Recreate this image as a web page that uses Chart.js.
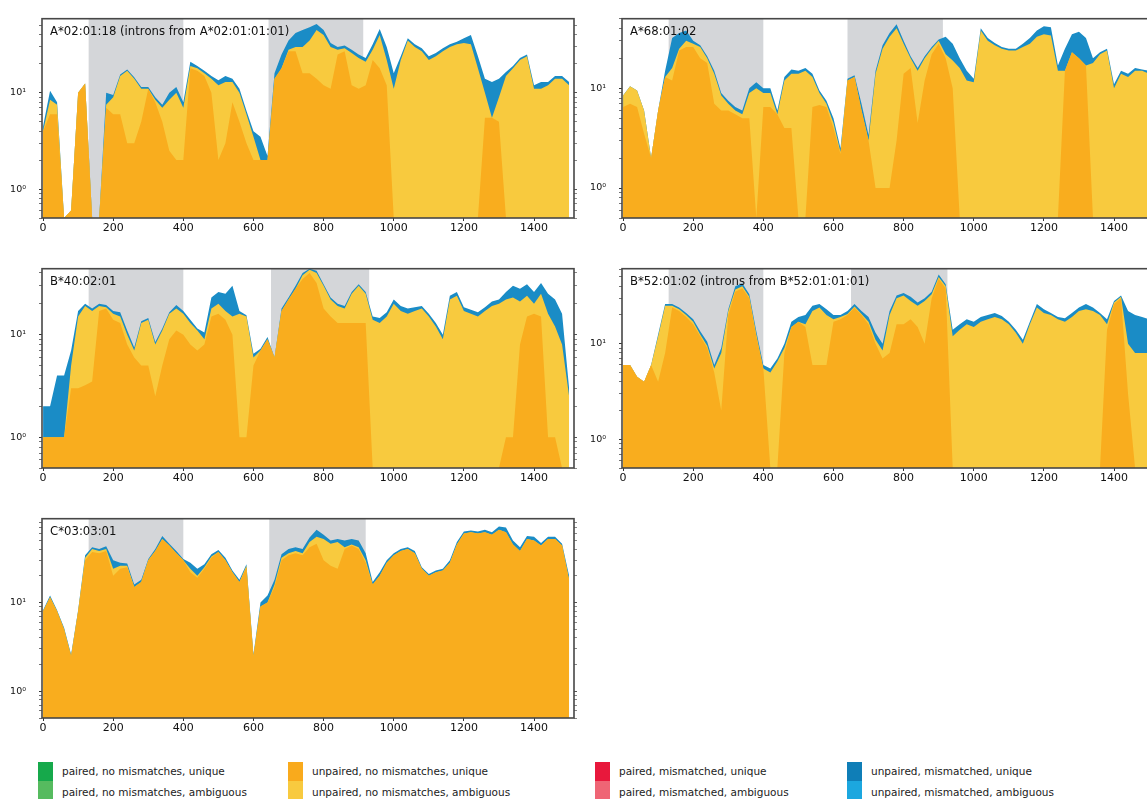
<!DOCTYPE html>
<html>
<head>
<meta charset="utf-8">
<script src="https://cdn.jsdelivr.net/npm/chart.js@4.4.0/dist/chart.umd.min.js"></script>
<style>
  body { margin: 0; background: #fff; }
  #page { position: relative; width: 1147px; height: 803px; overflow: hidden; font-family: 'DejaVu Sans', sans-serif; }
  #page canvas { position: absolute; }
  .sw { position: absolute; width: 15px; }
  .lab { position: absolute; font-size: 10.5px; color: #222; line-height: 14px; white-space: nowrap; }
</style>
</head>
<body>
<div id="page"></div>
<script>
// x positions along the allele sequence (bp)
var positions = [0,20,40,60,80,100,120,140,160,180,
                 200,220,240,260,280,300,320,340,360,380,
                 400,420,440,460,480,500,520,540,560,580,
                 600,620,640,660,680,700,720,740,760,780,
                 800,820,840,860,880,900,920,940,960,980,
                 1000,1020,1040,1060,1080,1100,1120,1140,1160,1180,
                 1200,1220,1240,1260,1280,1300,1320,1340,1360,1380,
                 1400,1420,1440,1460,1480,1500];
var xTicks = [0, 200, 400, 600, 800, 1000, 1200, 1400];

// coverage; "Unique" = top of unpaired unique layer,
// "Ambiguous" = top of the unpaired ambiguous layer, "Total" = top incl. mismatched reads
var a0201Unique = [4,6,6,0,0.6,10,12.5,0,0,7,
  6,6,3,3,5,11,8,5,2.5,2,
  2,18,17,15,10,2,3,8,5,3,
  2,2,2,14,18,27,27,16,16,14,
  12,11,25,27,12,11,12,22,18,12,
  0,0,0,0,0,0,0,0,0,0,
  0,0,0,5.5,5.5,5,0,0,0,0,
  0,0,0,0,0,0];
var a0201Ambiguous = [4,8.5,7.5,0,0.6,10,12.5,0,0,7.5,
  9,15,17,14,11,11,8.5,7,8.5,10,
  7,19,18,16,14,12,13,13,10,6,
  3.5,2,2,14,18,28,30,30,35,45,
  40,30,28,29,26,23,21,28,40,22,
  11,22,35,30,27,22,24,27,30,32,
  33,32,18,10,5.5,9,15,18,22,24,
  11,11,12,14,14,12];
var a0201Total = [4.5,10.5,8,0,0.6,10,12.5,0,0,10,
  9.5,15.5,17.5,14.5,11.5,11.5,9,7.5,10,11.5,
  8,21,19,17,15,13.5,15,14,11,6.5,
  4,3.5,2.2,16,25,35,42,45,48,52,
  45,33,30,31,28,25,23,32,46,30,
  16,24,37,32,29,24,26,29,32,34,
  37,40,24,14,13,14,16.5,19,23,25,
  12,13,13,15,15,13];

var a6801Unique = [6.5,7,6.5,3.5,2,6,13,12,24,26,
  26,20,18,7,6,6,5.5,5,5,0,
  6.5,6.5,5.5,4,4,0,0,6.5,6.8,6.5,
  4,2.2,12,13,6,3,1,1,1,3,
  14,16,4.5,12,22,28,20,10,0,0,
  0,0,0,0,0,0,0,0,0,0,
  0,0,0,15,23,20,17,0,0,0,
  0,0,0,0,0,0];
var a6801Ambiguous = [8.5,10.5,9.5,6,2,6,13,16,25,30,
  28,26,20,14,8.5,7,6,5.5,9,10,
  9,9,5.5,12,14,14,15,13,9,7,
  4.5,2.3,12,13,6,3,14,25,33,40,
  28,20,15,20,25,30,22,19,16,12,
  11.5,38,30,27,25,24,24,26,28,33,
  35,34,15,15,23,20,17,18,22,24,
  10,14,13,15,15,14];
var a6801Total = [8.5,10.5,9.5,6,2,6,15,32,36,38,
  30,27,21,15,9,7.5,6.5,6,10,11.5,
  10,10,6,13,15.5,15,16,14,9.5,7.5,
  5,2.5,12.5,13.5,7,3.4,15,27,36,44,
  30,21,16,21,26,31,33,28,20,15,
  12.5,40,32,28.5,26,25,25,28,32,38,
  42,41,17,25,35,37,32,20,23,25,
  11,15,14,16,15.5,15];

var b4002Unique = [1,1,1,1,3,3,3.2,3.5,17,18,
  14,13,8,6,5,5,2.5,5,9,11,
  10,8,7,8,15,16,14,10,1,1,
  5,7,9,6,17,22,28,35,40,32,
  18,15,13,13,13,13,13,0,0,0,
  0,0,0,0,0,0,0,0,0,0,
  0,0,0,0,0,0,1,1,8,15,
  16,15,1,1,0,0];
var b4002Ambiguous = [1,1,1,1,5,15,19,17,19,18.5,
  16,15,10,7,13,14,8,11,16,18,
  16,13,11,9,18,20,17,15,16,15,
  6,7,9,6,17,22,28,38,43,40,
  30,22,19,18,25,30,25,14,13,15,
  20,17,16,17,18,15,12,9,22,24,
  17,16,15,17,19,20,22,23,21,24,
  20,25,16,12,8,2.5];
var b4002Total = [2,2,4,4,7,17,20,18,20,19.5,
  17,16.5,11,7.5,13.5,14.5,8.5,11.5,16.5,19.5,
  17,14,11.5,10.5,23,26,25,30,17,15.5,
  6.5,7.3,9.5,6,18,23,30,40,44,42,
  31,23,20,19,26,31,26,15,14.5,16.5,
  22,19,18,18.5,19,16,13,10,24,26,
  18.5,17.5,16.5,18.5,21,22,26,30,28,31,
  26,32,25,22,16,3];

var b5201Unique = [6,6,4.5,4,6,4,8,24,22,19,
  16,12,9,5,2,20,35,38,30,12,
  5.5,0,0,8,15,17,15,6,6,6,
  17,18,20,24,20,16,10,7,8,16,
  16,18,15,10,30,48,38,0,0,0,
  0,0,0,0,0,0,0,0,0,0,
  0,0,0,0,0,0,0,0,0,14,
  26,30,3,0,0,0];
var b5201Ambiguous = [6,6,4.5,4,6,12,25,25,23,20,
  17,12.5,9.5,5.5,8,22,37,40,31,12.5,
  5.5,5,6.5,9,15,17,16,22,24,20,
  18,19,20.5,24.5,20.5,17,11,8.5,20,30,
  32,28,25,28,33,50,40,12,14,16,
  15,17,18,19,18,16,13,10,16,24,
  21,20,18,17,19,22,23,22,20,16,
  27,31,10,8,8,8];
var b5201Total = [6,6,4.5,4,6,12.5,26,26,24,21,
  18,13.5,10.5,6,9,23,40,43,33,13.5,
  6,5.5,7,10,17,19,20,25,26,23,
  20,20,22,26,22,19,13,10,22,32,
  34,31,27,30,35,53,42,14,16,18,
  17,19,20,21,19.5,17,14,11,17,26,
  23,21,19,18.5,21,24,26,24,21,18,
  28,32,22,20,19,18];

var c0303Unique = [8,11.5,8,5,2.5,8,30,37,36,38,
  20,24,25,15,17,30,38,52,44,36,
  30,22,19,24,32,37,30,22,17,25,
  2.5,9,10,15,30,34,36,34,42,46,
  30,26,24,40,44,40,28,16,20,28,
  34,38,40,36,24,20,22,23,28,45,
  60,62,60,62,58,66,62,45,38,52,
  50,44,52,52,44,18];
var c0303Ambiguous = [8,11.5,8,5,2.5,8,32,40,38,40,
  24,26,26,15,17,30,38,52,44,36,
  30,24,20,25,33,37,30,22,17,26,
  2.5,9,10,16,32,36,38,36,48,55,
  52,46,48,42,45,42,30,16,20,28,
  34,38,40,36,24,20,22,23,28,45,
  60,62,60,62,58,66,62,45,38,52,
  50,44,52,52,44,18];
var c0303Total = [8.2,12,8.2,5.2,2.6,8.2,34,42,40,43,
  30,28,27.5,16,18,31,40,56,46,38,
  31,28,24,27,35,39,32,23,18,27,
  2.6,10,12,18,35,40,42,40,54,66,
  58,50,52,50,52,50,36,17,22,30,
  36,40,42,38,25,21,23,24,30,48,
  63,65,63,66,62,72,70,50,42,56,
  55,47,55,55,46,20];

// exon regions (grey bands)
var a0201Exons = [[130, 400], [643, 913]];
var a6801Exons = [[130, 400], [640, 912]];
var b4002Exons = [[130, 400], [650, 930]];
var b5201Exons = [[130, 400], [650, 925]];
var c0303Exons = [[130, 400], [645, 920]];

var legendLabels = ['paired, no mismatches, unique', 'paired, no mismatches, ambiguous',
  'unpaired, no mismatches, unique', 'unpaired, no mismatches, ambiguous',
  'paired, mismatched, unique', 'paired, mismatched, ambiguous',
  'unpaired, mismatched, unique', 'unpaired, mismatched, ambiguous'];
var legendColors = ['#16a94b', '#56bb5f', '#f9aa1c', '#f8ca3f', '#e8183c', '#ef6575', '#0f7eb7', '#1ca7df'];

var UNIQUE_COLOR = '#f9ad1e';
var AMBIG_COLOR = '#f8ca3e';
var MISMATCH_COLOR = '#1a8cc6';
var EXON_COLOR = '#d4d6d9';

Chart.defaults.font.family = "'DejaVu Sans', sans-serif";
Chart.defaults.color = '#111';

var panelDecor = {
    id: 'panelDecor',
    beforeDatasetsDraw: function(chart, args, opts) {
        var ctx = chart.ctx, area = chart.chartArea, xs = chart.scales.x;
        ctx.save();
        ctx.fillStyle = EXON_COLOR;
        opts.exons.forEach(function(r) {
            var x0 = xs.getPixelForValue(r[0]);
            var x1 = xs.getPixelForValue(r[1]);
            ctx.fillRect(x0, area.top, x1 - x0, area.bottom - area.top);
        });
        ctx.restore();
    },
    afterDatasetsDraw: function(chart, args, opts) {
        var ctx = chart.ctx, area = chart.chartArea;
        ctx.save();
        ctx.strokeStyle = '#474747';
        ctx.lineWidth = 1.6;
        ctx.strokeRect(area.left, area.top, area.right - area.left, area.bottom - area.top);
        ctx.fillStyle = '#111';
        ctx.font = "11.7px 'DejaVu Sans', sans-serif";
        ctx.textBaseline = 'top';
        ctx.fillText(opts.title, area.left + 8, area.top + 7.5);
        ctx.restore();
    }
};

function toPoints(values) {
    return positions.map(function(p, i) { return { x: p, y: values[i] }; });
}

function layer(values, color) {
    return {
        data: toPoints(values),
        backgroundColor: color,
        borderColor: color,
        borderWidth: 0,
        pointRadius: 0,
        tension: 0,
        fill: 'start'
    };
}

function makePanel(left, top, title, unique, ambiguous, total, yMax, exons) {
    var canvas = document.createElement('canvas');
    canvas.width = 578;
    canvas.height = 240;
    canvas.style.left = left + 'px';
    canvas.style.top = top + 'px';
    document.getElementById('page').appendChild(canvas);

    var yTicks = [0.5, 0.6, 0.7, 0.8, 0.9, 1, 2, 3, 4, 5, 6, 7, 8, 9, 10, 20, 30, 40, 50, 60, 70, 80]
        .filter(function(v) { return v <= yMax; });
    var setYTicks = function(s) { s.ticks = yTicks.map(function(v) { return { value: v }; }); };
    var tickW = function(c) { return (c.tick && (c.tick.value === 1 || c.tick.value === 10)) ? 1 : 0.7; };

    return new Chart(canvas.getContext('2d'), {
        type: 'line',
        data: {
            datasets: [
                layer(unique, UNIQUE_COLOR),
                layer(ambiguous, AMBIG_COLOR),
                layer(total, MISMATCH_COLOR)
            ]
        },
        options: {
            responsive: false,
            animation: false,
            parsing: false,
            normalized: true,
            layout: { padding: { top: 10, right: 1, left: 0, bottom: 0 } },
            plugins: {
                legend: { display: false },
                tooltip: { enabled: false },
                panelDecor: { title: title, exons: exons }
            },
            scales: {
                x: {
                    type: 'linear',
                    min: -3,
                    max: 1514,
                    afterBuildTicks: function(s) { s.ticks = xTicks.map(function(v) { return { value: v }; }); },
                    afterFit: function(s) { s.height = 22; },
                    border: { display: false },
                    grid: { drawOnChartArea: false, tickLength: 3, tickColor: '#333', tickWidth: 1 },
                    ticks: {
                        autoSkip: false, maxRotation: 0, padding: 1, color: '#111', font: { size: 11 },
                        callback: function(v) { return String(v); }
                    }
                },
                y: {
                    type: 'logarithmic',
                    min: 0.5,
                    max: yMax,
                    afterBuildTicks: setYTicks,
                    afterFit: function(s) { s.width = 42; },
                    border: { display: false },
                    grid: { drawOnChartArea: false, tickLength: 3, tickColor: '#333', tickWidth: tickW },
                    ticks: {
                        autoSkip: false,
                        padding: 13,
                        color: '#111',
                        font: { size: 9.5 },
                        callback: function(v) { return v === 1 ? '10\u2070' : (v === 10 ? '10\u00b9' : ''); }
                    }
                },
                yRight: {
                    type: 'logarithmic',
                    position: 'right',
                    min: 0.5,
                    max: yMax,
                    afterBuildTicks: setYTicks,
                    afterFit: function(s) { s.width = 3; },
                    border: { display: false },
                    grid: { drawOnChartArea: false, tickLength: 3, tickColor: '#555', tickWidth: tickW },
                    ticks: { display: false, autoSkip: false }
                }
            }
        },
        plugins: [panelDecor]
    });
}

makePanel(0, 0, 'A*02:01:18 (introns from A*02:01:01:01)', a0201Unique, a0201Ambiguous, a0201Total, 59, a0201Exons);
makePanel(580, 0, 'A*68:01:02', a6801Unique, a6801Ambiguous, a6801Total, 50, a6801Exons);
makePanel(0, 250, 'B*40:02:01', b4002Unique, b4002Ambiguous, b4002Total, 44, b4002Exons);
makePanel(580, 250, 'B*52:01:02 (introns from B*52:01:01:01)', b5201Unique, b5201Ambiguous, b5201Total, 61, b5201Exons);
makePanel(0, 500, 'C*03:03:01', c0303Unique, c0303Ambiguous, c0303Total, 88, c0303Exons);

// legend: four columns of two entries each
var legendColumnsX = [38, 288, 595, 847];
var page = document.getElementById('page');
legendLabels.forEach(function(text, i) {
    var col = Math.floor(i / 2), row = i % 2;
    var sw = document.createElement('div');
    sw.className = 'sw';
    sw.style.left = legendColumnsX[col] + 'px';
    sw.style.top = (762 + row * 18.5) + 'px';
    sw.style.height = '18.5px';
    sw.style.background = legendColors[i];
    page.appendChild(sw);
    var lab = document.createElement('div');
    lab.className = 'lab';
    lab.style.left = (legendColumnsX[col] + 24) + 'px';
    lab.style.top = (764 + row * 21) + 'px';
    lab.textContent = text;
    page.appendChild(lab);
});
</script>
</body>
</html>
